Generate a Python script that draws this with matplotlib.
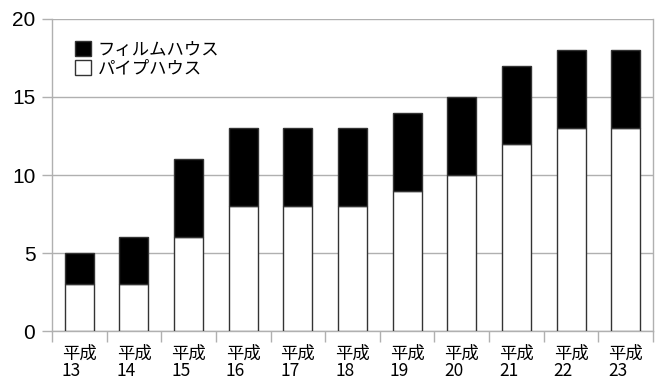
import matplotlib
matplotlib.use("Agg")
import matplotlib.pyplot as plt
import numpy as np
from matplotlib.patches import Patch

plt.rcParams['font.family'] = ['Noto Sans CJK JP', 'DejaVu Sans']

years = ["13", "14", "15", "16", "17", "18", "19", "20", "21", "22", "23"]
pipe_house = [3, 3, 6, 8, 8, 8, 9, 10, 12, 13, 13]
film_house = [2, 3, 5, 5, 5, 5, 5, 5, 5, 5, 5]
labels = ["平成\n" + y for y in years]
yticks = [0, 5, 10, 15, 20]

fig = plt.figure(figsize=(6.56, 3.79), dpi=100)
ax = fig.add_axes([0.0793, 0.1266, 0.9954 - 0.0793, 0.9499 - 0.1266])

x = np.arange(len(years))
w = 0.53
ax.bar(x, pipe_house, width=w, color='white', edgecolor='#333333', linewidth=1.0, zorder=3)
ax.bar(x, film_house, width=w, bottom=pipe_house, color='black', edgecolor='#333333', linewidth=1.0, zorder=3)

ax.set_xlim(-0.5, len(years) - 0.5)
ax.set_ylim(0, 20)
ax.set_yticks(yticks)
ax.set_yticklabels([str(v) for v in yticks], fontsize=15, family=['Liberation Sans', 'DejaVu Sans'])
ax.tick_params(axis='y', length=7, width=1, color='#b0b0b0', pad=5)

ax.set_xticks(x)
ax.set_xticklabels(labels, fontsize=12.5, linespacing=0.9, ha='center', multialignment='left')
ax.tick_params(axis='x', which='major', length=0, pad=10)
ax.set_xticks(np.arange(-0.5, len(years), 1.0), minor=True)
ax.tick_params(axis='x', which='minor', length=8, width=1, color='#b0b0b0')

ax.yaxis.grid(True, color='#b0b0b0', linewidth=1.0, zorder=0)
ax.set_axisbelow(True)
for s in ['left', 'bottom', 'right', 'top']:
    ax.spines[s].set_color('#b0b0b0')
    ax.spines[s].set_linewidth(1.0)
ax.spines['top'].set_visible(False)

handles = [Patch(facecolor='black', edgecolor='#333333', label='フィルムハウス'),
           Patch(facecolor='white', edgecolor='#333333', label='パイプハウス')]
ax.legend(handles=handles, loc='upper left', bbox_to_anchor=(0.018, 0.97), frameon=False,
          fontsize=12.5, handlelength=0.95, handleheight=0.95, handletextpad=0.35,
          labelspacing=0.05, borderaxespad=0.3)

fig.savefig("out.png", dpi=100)
